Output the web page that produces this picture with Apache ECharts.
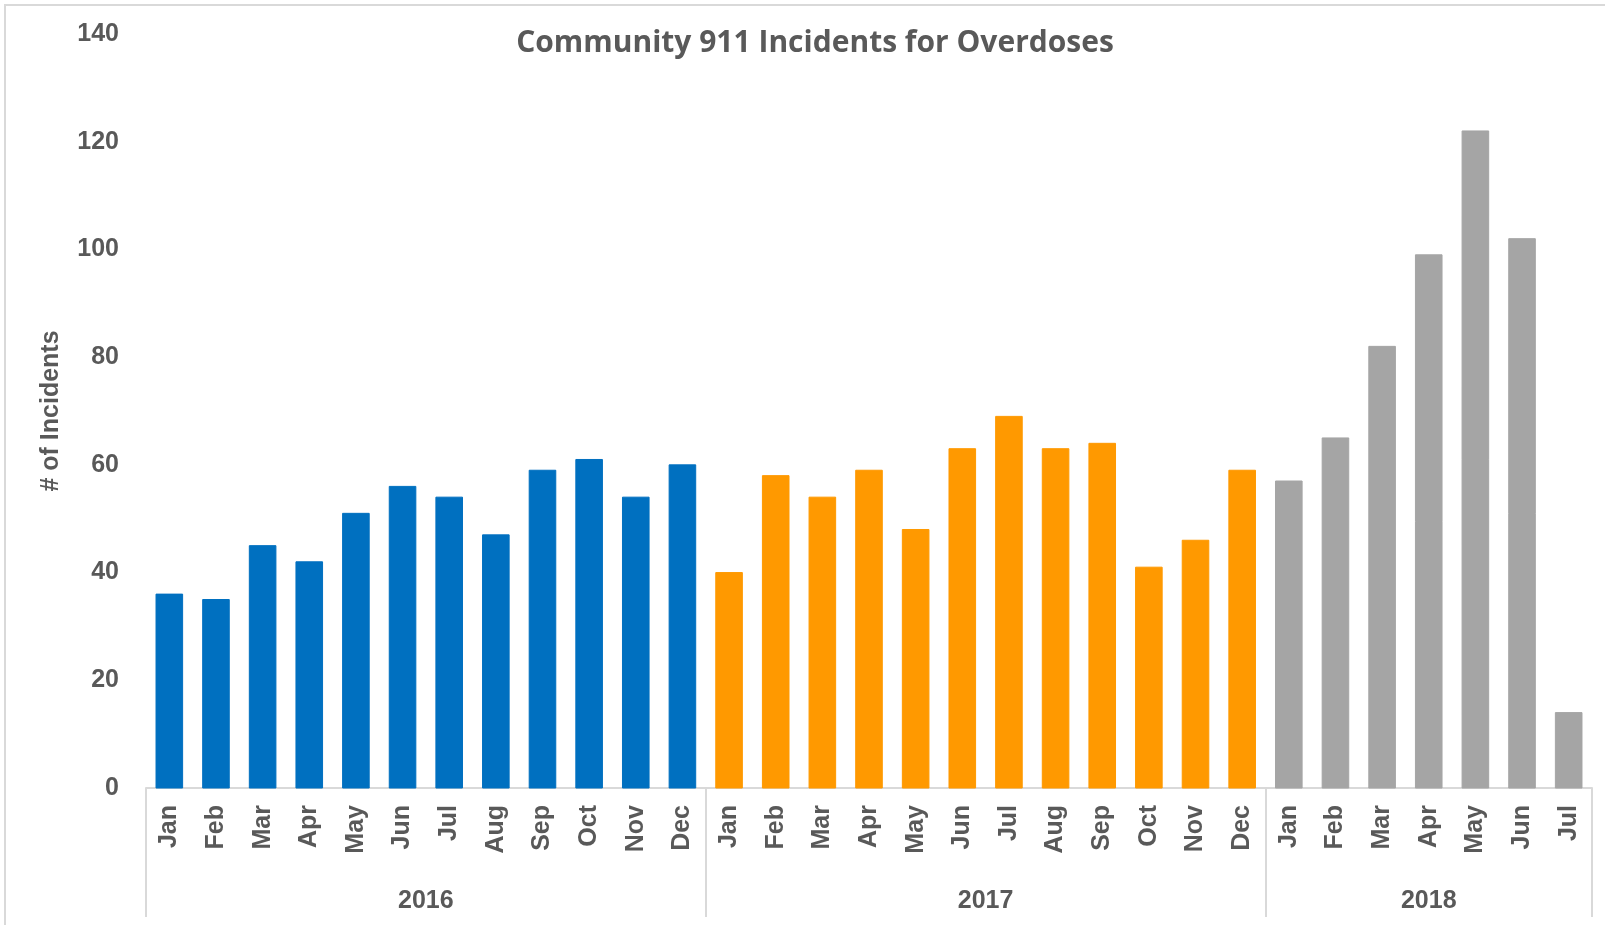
<!DOCTYPE html>
<html>
<head>
<meta charset="utf-8">
<script src="https://cdn.jsdelivr.net/npm/echarts@6/dist/echarts.min.js"></script>
<style>
html,body{margin:0;padding:0;background:#fff;}
#chart{width:1605px;height:925px;}
</style>
</head>
<body>
<div id="chart"></div>
<script>
const months2016 = ['Jan','Feb','Mar','Apr','May','Jun','Jul','Aug','Sep','Oct','Nov','Dec'];
const months2017 = ['Jan','Feb','Mar','Apr','May','Jun','Jul','Aug','Sep','Oct','Nov','Dec'];
const months2018 = ['Jan','Feb','Mar','Apr','May','Jun','Jul'];
const years = ['2016','2017','2018'];
const values2016 = [36,35,45,42,51,56,54,47,59,61,54,60];
const values2017 = [40,58,54,59,48,63,69,63,64,41,46,59];
const values2018 = [57,65,82,99,122,102,14];
const yTicks = [0,20,40,60,80,100,120,140];

const colors = ['#0070C0','#FF9900','#A5A5A5'];
const groups = [
  {months: months2016, values: values2016},
  {months: months2017, values: values2017},
  {months: months2018, values: values2018}
];
const categories = [];
const data = [];
const boundaries = [0];
const centers = [];
let pos = 0;
groups.forEach((g, gi) => {
  g.months.forEach((m, i) => {
    categories.push(m);
    data.push({value: g.values[i], itemStyle: {color: colors[gi], borderColor: colors[gi]}});
  });
  centers.push(pos + g.months.length / 2);
  pos += g.months.length;
  boundaries.push(pos);
});

const textColor = '#595959';
const fontFamily = '"Liberation Sans", Arial, sans-serif';

const chart = echarts.init(document.getElementById('chart'));
chart.setOption({
  animation: false,
  backgroundColor: '#fff',
  title: {
    text: 'Community 911 Incidents for Overdoses',
    left: 810,
    textAlign: 'center',
    top: 23,
    textStyle: {color: textColor, fontSize: 30, fontWeight: 'bold', fontFamily: '"Open Sans", sans-serif'}
  },
  graphic: [{
    type: 'rect',
    shape: {x: 5, y: 5, width: 1700, height: 1000},
    style: {fill: 'none', stroke: '#D9D9D9', lineWidth: 2},
    silent: true,
    z: -1
  }],
  grid: {left: 146, right: 13, top: 34, bottom: 137, containLabel: false},
  xAxis: [{
    type: 'category',
    data: categories,
    position: 'bottom',
    axisLine: {show: true, lineStyle: {color: '#D9D9D9', width: 2}},
    axisTick: {show: false},
    axisLabel: {
      rotate: 90,
      interval: 0,
      margin: 17,
      color: textColor,
      fontSize: 25,
      fontWeight: 'bold',
      fontFamily: fontFamily
    },
    splitLine: {show: false}
  }, {
    type: 'value',
    min: 0,
    max: pos,
    position: 'bottom',
    axisLine: {show: false},
    splitLine: {show: false},
    axisTick: {
      show: true,
      customValues: boundaries,
      length: 129,
      lineStyle: {color: '#D9D9D9', width: 2}
    },
    axisLabel: {
      customValues: centers,
      formatter: function (v) {
        const idx = centers.indexOf(v);
        return idx >= 0 ? years[idx] : '';
      },
      margin: 101,
      color: textColor,
      fontSize: 25,
      fontWeight: 'bold',
      fontFamily: fontFamily
    }
  }],
  yAxis: {
    type: 'value',
    min: yTicks[0],
    max: yTicks[yTicks.length - 1],
    interval: 20,
    name: '# of Incidents',
    nameLocation: 'middle',
    nameRotate: 90,
    nameGap: 82,
    nameTextStyle: {color: textColor, fontSize: 25, fontWeight: 'bold', fontFamily: fontFamily},
    axisLine: {show: false},
    axisTick: {show: false},
    splitLine: {show: false},
    axisLabel: {
      margin: 27,
      color: textColor,
      fontSize: 25,
      fontWeight: 'bold',
      fontFamily: fontFamily
    }
  },
  series: [{
    type: 'bar',
    xAxisIndex: 0,
    yAxisIndex: 0,
    barWidth: '57%',
    data: data
  }]
});
</script>
</body>
</html>
